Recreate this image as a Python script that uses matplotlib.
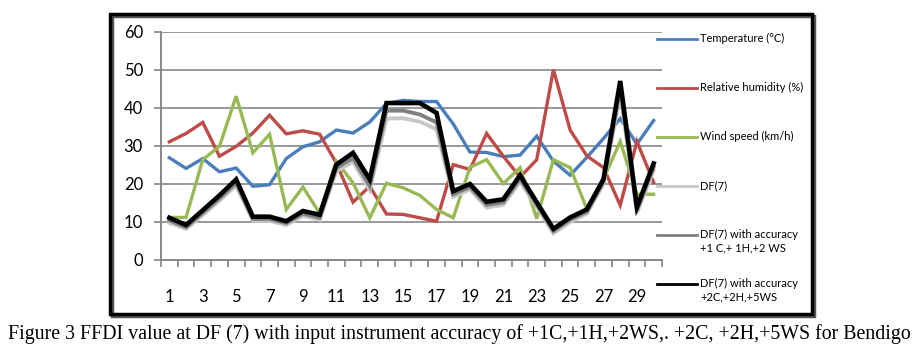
import numpy as np
import matplotlib
matplotlib.use("Agg")
import matplotlib.pyplot as plt
from matplotlib.patches import Rectangle
from matplotlib.lines import Line2D

days = list(range(1, 31))
temperature = [26.9, 24.1, 26.7, 23.2, 24.2, 19.4, 19.8, 26.7, 29.8, 31.1,
               34.2, 33.4, 36.3, 41.2, 42.0, 41.7, 41.7, 35.8, 28.4, 28.3,
               27.2, 27.6, 32.6, 26.0, 22.3, 27.0, 32.0, 37.2, 30.5, 36.7]
humidity = [31.1, 33.3, 36.2, 27.3, 29.9, 33.4, 38.1, 33.2, 34.0, 33.1,
            25.5, 15.2, 19.4, 12.1, 12.0, 11.1, 10.2, 25.1, 23.8, 33.3,
            27.3, 21.8, 26.4, 50.1, 34.2, 27.4, 24.3, 14.4, 31.2, 20.4]
wind = [11.2, 11.2, 26.4, 29.9, 43.1, 28.2, 33.1, 13.3, 19.2, 12.3,
        26.0, 20.3, 11.1, 20.2, 19.0, 17.0, 13.3, 11.1, 24.4, 26.4,
        20.1, 24.3, 10.9, 26.4, 24.3, 13.5, 21.3, 31.2, 17.3, 17.3]
df7 = [9.8, 8.2, 11.8, 15.6, 19.6, 10.3, 10.3, 9.2, 11.6, 10.6,
       23.4, 25.8, 18.4, 37.2, 37.3, 36.4, 34.4, 16.6, 18.6, 13.8,
       14.5, 20.6, 14.0, 7.0, 10.0, 12.2, 20.0, 43.8, 12.4, 23.6]
df7_acc1 = [10.4, 8.6, 12.4, 16.2, 20.3, 10.8, 10.8, 9.7, 12.2, 11.1,
            24.2, 26.8, 19.5, 39.3, 39.3, 38.3, 36.2, 17.3, 19.2, 14.5,
            15.2, 21.4, 14.6, 7.6, 10.6, 12.7, 20.6, 45.2, 13.1, 24.5]
df7_acc2 = [11.1, 9.2, 13.1, 17.0, 21.2, 11.4, 11.4, 10.2, 12.9, 11.9,
            25.1, 28.2, 21.2, 41.3, 41.3, 41.3, 38.7, 18.1, 20.0, 15.3,
            16.0, 22.3, 15.2, 8.2, 11.2, 13.3, 21.3, 47.1, 13.9, 25.4]

labels = ["Temperature (°C)", "Relative humidity (%)", "Wind speed (km/h)", "DF(7)",
          "DF(7) with accuracy\n+1 C,+ 1H,+2 WS", "DF(7) with accuracy\n+2C,+2H,+5WS"]
colors = ["#4A7EBB", "#BE4B48", "#98B954", "#C8C8C8", "#808080", "#000000"]
widths = [2.4, 2.4, 2.4, 2.8, 2.8, 3.3]
series = [temperature, humidity, wind, df7, df7_acc1, df7_acc2]

plt.rcParams['font.family'] = ['Lato', 'DejaVu Sans']

fig = plt.figure(figsize=(9.18, 3.59), dpi=100)
ax = fig.add_axes([0.1754, 0.2758, 0.5457, 0.6351])

for s, c, w in zip(series, colors, widths):
    ax.plot(days, s, color=c, lw=w, solid_joinstyle="miter", zorder=3)

ax.set_xlim(0.5, 30.5)
ax.set_ylim(0, 60)
ax.set_yticks(range(0, 61, 10))
ax.yaxis.grid(True, color="#878787", lw=1.2, zorder=0)
ax.set_xticks(days[::2])
ax.set_xticks(np.arange(0.5, 31, 1), minor=True)
ax.tick_params(axis="x", which="major", length=0, pad=21, labelsize=12)
ax.tick_params(axis="x", which="minor", length=5, color="#878787", width=1.2, direction="out")
ax.tick_params(axis="y", length=5, color="#878787", width=1.2, labelsize=12, pad=8)
for side in ["top", "right"]:
    ax.spines[side].set_visible(False)
for side in ["left", "bottom"]:
    ax.spines[side].set_color("#878787")
    ax.spines[side].set_linewidth(1.4)

# legend drawn by hand to keep the wide spacing of the original
W, H = 918, 359
leg_y = [39, 88, 137, 186, 235, 284]
for lab, c, y in zip(labels, colors, leg_y):
    fy = 1 - y / H
    fig.add_artist(Line2D([657 / W, 697 / W], [fy, fy], color=c, lw=2.0))
    fig.text(700 / W, fy + 6 / H, lab, fontsize=8, va="top", ha="left",
             linespacing=1.3)

# chart frame with shadow
fig.add_artist(Rectangle((112 / W, 1 - 316 / H), 702 / W, 300 / H, transform=fig.transFigure,
                         fill=False, ec="#555555", lw=2.5, zorder=0))
fig.add_artist(Rectangle((110 / W, 1 - 314 / H), 702 / W, 300 / H, transform=fig.transFigure,
                         fill=False, ec="black", lw=2.5))

fig.text(0.5, 1 - 334 / H,
         "Figure 3 FFDI value at DF (7) with input instrument accuracy of +1C,+1H,+2WS,. +2C, +2H,+5WS for Bendigo",
         family="Liberation Serif", fontsize=14.3, ha="center", va="center")

fig.savefig("out.png", dpi=100)
